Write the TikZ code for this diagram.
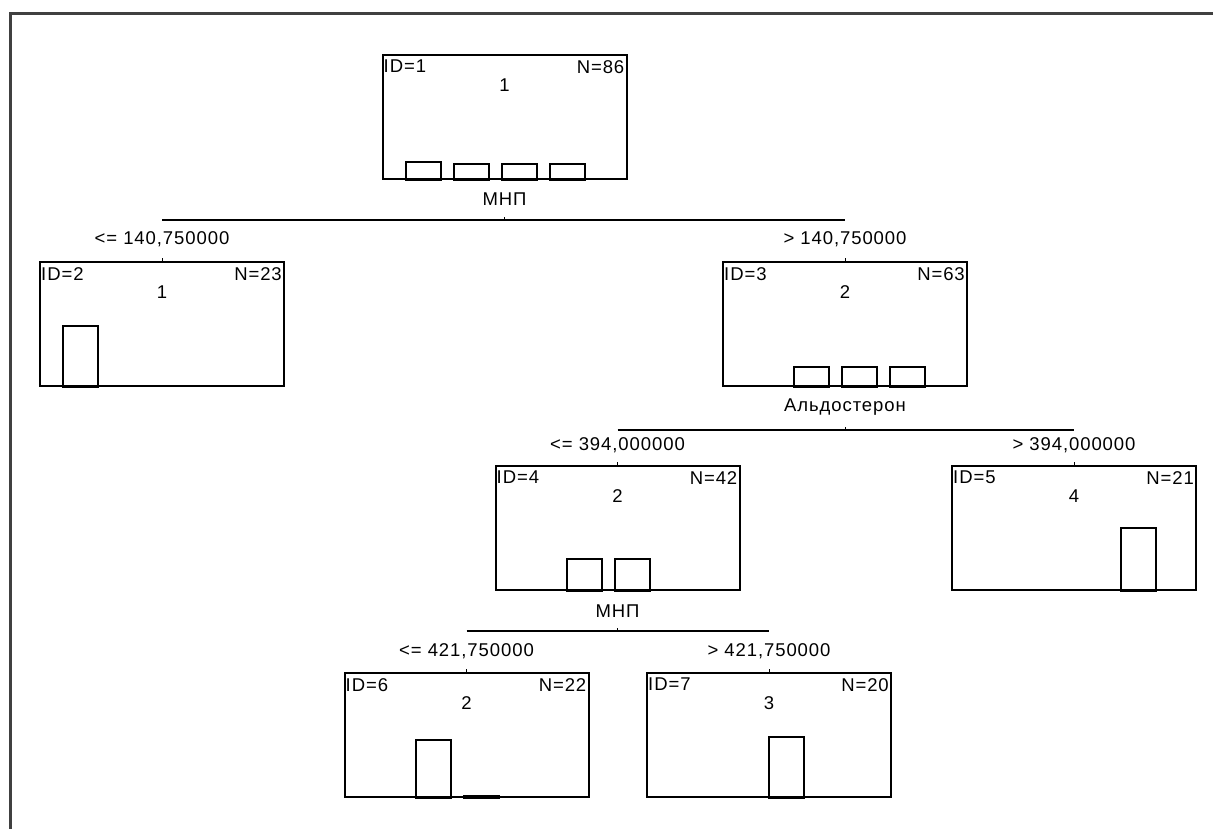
\documentclass[tikz,border=0pt]{standalone}
\usepackage{fontspec}
\setmainfont{Liberation Sans}
\newfontfamily\treefont[LetterSpace=5]{Liberation Sans}
\usetikzlibrary{positioning,calc}

\begin{document}
\begin{tikzpicture}[
    x=1pt, y=-1pt,
    font=\treefont\fontsize{18.5}{21}\selectfont,
    treebox/.style={
        rectangle, draw=black, line width=2pt, anchor=north,
        minimum width=244pt, minimum height=124pt, inner sep=0pt
    },
    idlbl/.style={anchor=north west, inner xsep=2pt, inner ysep=6pt},
    nlbl/.style={anchor=north east, inner xsep=3pt, inner ysep=6pt},
    clslbl/.style={anchor=center, inner sep=0pt},
    varlbl/.style={anchor=center, inner sep=0pt},
    condlbl/.style={anchor=center, inner sep=0pt},
    histbar/.style={draw=black, line width=2pt},
    splitline/.style={draw=black, line width=2pt},
    tick/.style={draw=black, line width=1pt}
]
    \useasboundingbox (0,0) rectangle (1213,829);

    % outer frame
    \draw [black!75, line width=2.2pt] (10.5,829) -- (10.5,13.5) -- (1213,13.5);

    % Tree boxes
    \node [treebox] (n1) at (504.5,54) {};
    \node [treebox] (n2) at (162,261) {};
    \node [treebox] (n3) at (845,261) {};
    \node [treebox] (n4) at (617.5,465) {};
    \node [treebox] (n5) at (1074,465) {};
    \node [treebox] (n6) at (466.5,672) {};
    \node [treebox] (n7) at (769,672) {};

    % box texts
    \node [idlbl] (n1id) at (n1.north west) {ID=1};
    \node [nlbl] (n1n) at (n1.north east) {N=86};
    \node [clslbl] (n1c) at ($(n1.north)+(0,31)$) {1};
    \node [idlbl] (n2id) at (n2.north west) {ID=2};
    \node [nlbl] (n2n) at (n2.north east) {N=23};
    \node [clslbl] (n2c) at ($(n2.north)+(0,31)$) {1};
    \node [idlbl] (n3id) at (n3.north west) {ID=3};
    \node [nlbl] (n3n) at (n3.north east) {N=63};
    \node [clslbl] (n3c) at ($(n3.north)+(0,31)$) {2};
    \node [idlbl] (n4id) at (n4.north west) {ID=4};
    \node [nlbl] (n4n) at (n4.north east) {N=42};
    \node [clslbl] (n4c) at ($(n4.north)+(0,31)$) {2};
    \node [idlbl] (n5id) at (n5.north west) {ID=5};
    \node [nlbl] (n5n) at (n5.north east) {N=21};
    \node [clslbl] (n5c) at ($(n5.north)+(0,31)$) {4};
    \node [idlbl] (n6id) at (n6.north west) {ID=6};
    \node [nlbl] (n6n) at (n6.north east) {N=22};
    \node [clslbl] (n6c) at ($(n6.north)+(0,31)$) {2};
    \node [idlbl] (n7id) at (n7.north west) {ID=7};
    \node [nlbl] (n7n) at (n7.north east) {N=20};
    \node [clslbl] (n7c) at ($(n7.north)+(0,31)$) {3};

    % class histograms
    \foreach \k/\h in {1/18,2/16,3/16,4/16}
        \draw [histbar] ($(n1.south west)+({24+48*(\k-1)},0)$) rectangle ++(35,-\h);
    \draw [histbar] ($(n2.south west)+(24,0)$) rectangle ++(35,-61);
    \foreach \k in {2,3,4}
        \draw [histbar] ($(n3.south west)+({24+48*(\k-1)},0)$) rectangle ++(35,-20);
    \foreach \k in {2,3}
        \draw [histbar] ($(n4.south west)+({24+48*(\k-1)},0)$) rectangle ++(35,-32);
    \draw [histbar] ($(n5.south west)+(170,0)$) rectangle ++(35,-63);
    \draw [histbar] ($(n6.south west)+(72,0)$) rectangle ++(35,-58);
    \draw [histbar] ($(n6.south west)+(120,0)$) rectangle ++(35,-2);
    \draw [histbar] ($(n7.south west)+(123,0)$) rectangle ++(35,-61);

    % split 1
    \node [varlbl] (v1) at ($(n1.south)+(0,19)$) {МНП};
    \coordinate (s1) at ($(n1.south)+(0,40)$);
    \draw [splitline] (s1 -| n2.north) -- (s1 -| n3.north);
    \draw [tick] (s1) -- ++(0,-3);
    \node [condlbl] (c2) at ($(n2.north)+(0,-22)$) {<= 140,750000};
    \node [condlbl] (c3) at ($(n3.north)+(0,-22)$) {> 140,750000};
    \draw [tick] (n2.north) -- ++(0,-3);
    \draw [tick] (n3.north) -- ++(0,-3);

    % split 2
    \node [varlbl] (v3) at ($(n3.south)+(0,20)$) {Альдостерон};
    \coordinate (s3) at ($(n3.south)+(0,43)$);
    \draw [splitline] (s3 -| n4.north) -- (s3 -| n5.north);
    \draw [tick] (s3) -- ++(0,-3);
    \node [condlbl] (c4) at ($(n4.north)+(0,-20)$) {<= 394,000000};
    \node [condlbl] (c5) at ($(n5.north)+(0,-20)$) {> 394,000000};
    \draw [tick] (n4.north) -- ++(0,-3);
    \draw [tick] (n5.north) -- ++(0,-3);

    % split 3
    \node [varlbl] (v4) at ($(n4.south)+(0,20)$) {МНП};
    \coordinate (s4) at ($(n4.south)+(0,40)$);
    \draw [splitline] (s4 -| n6.north) -- (s4 -| n7.north);
    \draw [tick] (s4) -- ++(0,-3);
    \node [condlbl] (c6) at ($(n6.north)+(0,-21)$) {<= 421,750000};
    \node [condlbl] (c7) at ($(n7.north)+(0,-21)$) {> 421,750000};
    \draw [tick] (n6.north) -- ++(0,-3);
    \draw [tick] (n7.north) -- ++(0,-3);

\end{tikzpicture}
\end{document}
